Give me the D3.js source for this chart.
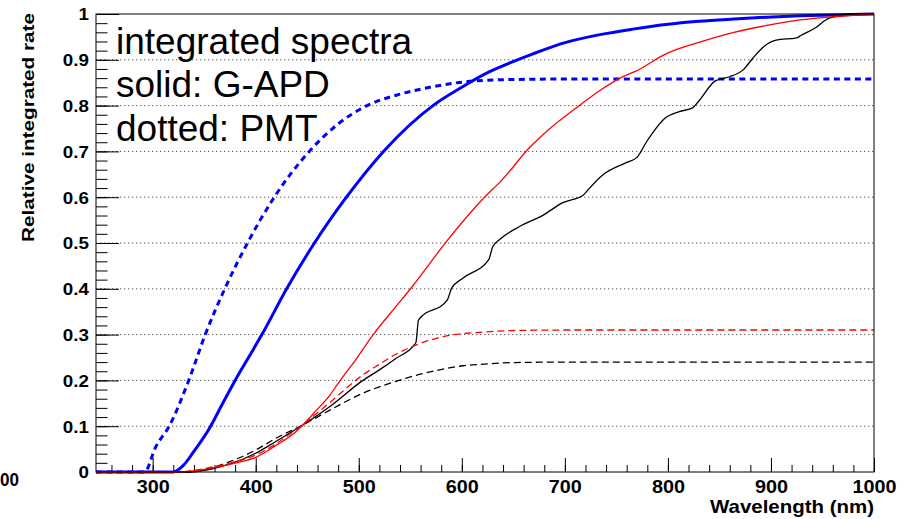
<html>
<head>
<script src="https://d3js.org/d3.v7.min.js"></script>
<style>
  body { margin: 0; background: #fff; }
  text { font-family: "Liberation Sans", Arial, Helvetica, sans-serif; }
</style>
</head>
<body>
<svg id="chart" width="908" height="519"></svg>
<script>
// -------------------------------------------------
// data : [wavelength (nm), relative integrated rate]
// -------------------------------------------------
var gapdBlue = [[245,0],[320,0],[330,0.015],[340,0.045],[355,0.095],[368,0.15],[380,0.2],[393,0.25],[406,0.3],[430,0.4],[457,0.5],[488,0.6],[524,0.7],[572,0.8],[600,0.84],[627,0.874],[637,0.884],[669,0.913],[701,0.938],[734,0.955],[766,0.967],[798,0.977],[830,0.984],[864,0.989],[896,0.993],[928,0.996],[960,0.998],[1000,1]];
var pmtBlue  = [[245,0],[292,0],[303,0.055],[316,0.1],[335,0.2],[351,0.3],[370,0.4],[392,0.5],[418,0.6],[452,0.7],[480,0.76],[508,0.8],[540,0.825],[569,0.84],[608,0.853],[650,0.857],[700,0.858],[1000,0.858]];
var gapdRed  = [[245,0],[323,0],[342,0.003],[361,0.01],[381,0.02],[400,0.032],[419,0.057],[439,0.088],[446,0.103],[459,0.135],[472,0.168],[481,0.197],[497,0.245],[514,0.3],[536,0.361],[552,0.405],[585,0.503],[622,0.6],[638,0.635],[666,0.709],[685,0.749],[717,0.805],[734,0.833],[758,0.865],[768,0.874],[798,0.913],[830,0.938],[864,0.96],[896,0.975],[928,0.987],[960,0.994],[1000,1]];
var pmtRed   = [[245,0],[323,0],[342,0.004],[356,0.01],[374,0.019],[400,0.037],[439,0.092],[471,0.15],[504,0.212],[520,0.235],[536,0.257],[552,0.274],[568,0.287],[585,0.297],[618,0.305],[652,0.309],[700,0.31],[1000,0.31]];
var gapdBlack = [[245,0],[336,0],[352,0.004],[374,0.017],[400,0.041],[419,0.066],[446,0.103],[472,0.143],[504,0.2],[520,0.223],[536,0.248],[554,0.278],[555.5,0.283],[558,0.332],[586,0.376],[590,0.401],[601,0.423],[626,0.463],[630,0.492],[637,0.508],[656,0.536],[679,0.561],[698,0.588],[718,0.605],[722,0.615],[737,0.649],[760,0.676],[770,0.687],[779,0.72],[798,0.774],[811,0.787],[824,0.795],[830,0.81],[846,0.854],[860,0.863],[873,0.878],[883,0.905],[896,0.934],[905,0.943],[925,0.948],[929,0.953],[944,0.971],[953,0.987],[966,0.996],[977,1],[1000,1]];
var pmtBlack = [[245,0],[336,0],[352,0.006],[374,0.022],[400,0.048],[419,0.073],[446,0.103],[472,0.135],[504,0.172],[520,0.186],[536,0.198],[552,0.209],[568,0.218],[585,0.226],[601,0.232],[618,0.235],[652,0.239],[700,0.24],[1000,0.24]];

var xTicks = [300,400,500,600,700,800,900,1000];
var yTicks = [0,0.1,0.2,0.3,0.4,0.5,0.6,0.7,0.8,0.9,1];
var legendLines = ["integrated spectra", "solid: G-APD", "dotted: PMT"];

// -------------------------------------------------
// scales
// -------------------------------------------------
var svg = d3.select("#chart");
var x = d3.scaleLinear().domain([245,1000]).range([96,874]);
var y = d3.scaleLinear().domain([0,1]).range([472,14]);

// grid (dotted, horizontal only)
svg.append("g").selectAll("line").data(yTicks.filter(function(d){ return d > 0 && d < 1; }))
	.enter().append("line")
	.attr("x1", x.range()[0]).attr("x2", x.range()[1])
	.attr("y1", function(d){ return y(d); }).attr("y2", function(d){ return y(d); })
	.attr("stroke", "#555").attr("stroke-width", 1)
	.attr("stroke-dasharray", "1.3,2.7");

// -------------------------------------------------
// axes, ticks point inside the frame like ROOT
// -------------------------------------------------
var yMinor = d3.axisLeft(y).tickValues(d3.range(0, 1.0001, 0.02)).tickSize(-11.5).tickSizeOuter(0).tickFormat("");
svg.append("g").attr("transform", "translate(96,0)").call(yMinor)
	.call(function(g){ g.select(".domain").remove(); });

var yAxis = d3.axisLeft(y).tickValues(yTicks).tickSize(-23).tickSizeOuter(0).tickPadding(0)
	.tickFormat(function(d){ return (d === 0 || d === 1) ? String(d) : d3.format(".1f")(d); });
var yG = svg.append("g").attr("transform", "translate(96,0)").call(yAxis);
yG.select(".domain").remove();
yG.selectAll("text")
	.attr("font-family", "Liberation Sans, Arial, sans-serif")
	.attr("font-size", 16.5).attr("font-weight", "bold").attr("fill", "#000")
	.attr("x", -6.2).attr("dy", "0.36em")
	.attr("transform", "scale(1.14,1)");

var xMinor = d3.axisBottom(x).tickValues(d3.range(260, 1000, 20)).tickSize(-7).tickSizeOuter(0).tickFormat("");
svg.append("g").attr("transform", "translate(0,472)").call(xMinor)
	.call(function(g){ g.select(".domain").remove(); });

var xAxis = d3.axisBottom(x).tickValues(xTicks).tickSize(-14).tickSizeOuter(0).tickPadding(8)
	.tickFormat(d3.format("d"));
var xG = svg.append("g").attr("transform", "translate(0,472)").call(xAxis);
xG.select(".domain").remove();
xG.selectAll("text")
	.attr("font-family", "Liberation Sans, Arial, sans-serif")
	.attr("font-size", 18).attr("font-weight", "bold").attr("fill", "#000")
	.attr("transform", "scale(1.1,1)");

// -------------------------------------------------
// curves
// -------------------------------------------------
var line = d3.line()
	.x(function(d){ return x(d[0]); })
	.y(function(d){ return y(d[1]); })
	.curve(d3.curveMonotoneX);

var series = [
	{ data: gapdBlue,  color: "#0000ff", width: 3,   dash: null },
	{ data: pmtBlue,   color: "#0000ff", width: 3,   dash: "6,4.5" },
	{ data: gapdBlack, color: "#000000", width: 1.3, dash: null },
	{ data: pmtBlack,  color: "#000000", width: 1.3, dash: "7,4" },
	{ data: gapdRed,   color: "#ff0000", width: 1.3, dash: null },
	{ data: pmtRed,    color: "#ff0000", width: 1.3, dash: "7,4" }
];

svg.append("g").selectAll("path").data(series)
	.enter().append("path")
	.attr("d", function(s){ return line(s.data); })
	.attr("fill", "none")
	.attr("stroke", function(s){ return s.color; })
	.attr("stroke-width", function(s){ return s.width; })
	.attr("stroke-dasharray", function(s){ return s.dash; })
	.attr("stroke-linejoin", "round");

// frame
svg.append("rect")
	.attr("x", 96).attr("y", 14).attr("width", 874 - 96).attr("height", 472 - 14)
	.attr("fill", "none").attr("stroke", "#000").attr("stroke-width", 1);

// -------------------------------------------------
// text
// -------------------------------------------------
svg.append("g").selectAll("text").data(legendLines)
	.enter().append("text")
	.attr("x", 116)
	.attr("y", function(d, i){ return [54, 97, 141][i]; })
	.attr("font-size", 37)
	.attr("fill", "#000")
	.text(function(d){ return d; });

svg.append("text")
	.attr("x", 874).attr("y", 513)
	.attr("text-anchor", "end")
	.attr("font-size", 18.5).attr("font-weight", "bold")
	.attr("textLength", 164).attr("lengthAdjust", "spacingAndGlyphs")
	.text("Wavelength (nm)");

svg.append("text")
	.attr("transform", "translate(34,13) rotate(-90)")
	.attr("text-anchor", "end")
	.attr("font-size", 16.5).attr("font-weight", "bold")
	.attr("textLength", 229).attr("lengthAdjust", "spacingAndGlyphs")
	.text("Relative integrated rate");

// leftover label of the neighbouring plot
svg.append("text")
	.attr("x", 0).attr("y", 486)
	.attr("font-size", 18).attr("font-weight", "bold")
	.attr("textLength", 19).attr("lengthAdjust", "spacingAndGlyphs")
	.text("00");
</script>
</body>
</html>
